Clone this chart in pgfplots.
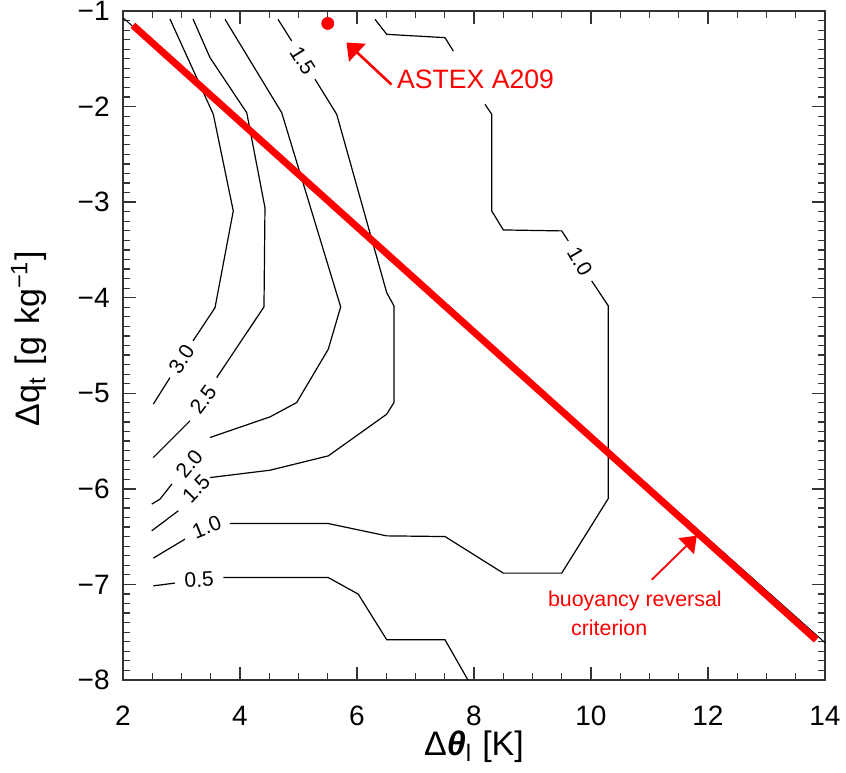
\documentclass[border=0pt]{standalone}
\usepackage{pgfplots}
\pgfplotsset{compat=1.18}
\usepackage{fontspec}
\setmainfont{Liberation Sans}
\usetikzlibrary{arrows.meta}
\definecolor{pred}{RGB}{255,0,0}
\begin{document}
\begin{tikzpicture}
\begin{axis}[
  name=ax,
  width=351pt, height=334.5pt, scale only axis,
  xmin=2, xmax=14, ymin=-8, ymax=-1,
  xtick={2,4,6,8,10,12,14},
  xticklabels={2,4,6,8,10,12,14},
  ytick={-8,-7,-6,-5,-4,-3,-2,-1},
  yticklabels={−8,−7,−6,−5,−4,−3,−2,−1},
  minor x tick num=3, minor y tick num=9,
  tick pos=both, tick align=inside,
  major tick length=6.5pt, minor tick length=3.5pt,
  axis line style={line width=0.6pt, draw=black!80},
  major tick style={line width=0.7pt, draw=black!80},
  minor tick style={line width=0.6pt, draw=black!80},
  tick label style={font=\fontsize{14}{16}\selectfont, inner sep=0pt},
  xticklabel style={yshift=-13pt},
  yticklabel style={xshift=-6.5pt},
  xlabel={Δ\textbf{\textit{θ}}\textsubscript{l}\hspace{0.3em}[K]},
  ylabel={Δq\textsubscript{t}\hspace{0.35em}[g\hspace{0.35em}kg\textsuperscript{−1}]},
  every axis x label/.style={at={(axis description cs:0.5,-0.1)}, anchor=center, inner sep=0pt, font=\fontsize{17}{20}\selectfont},
  every axis y label/.style={at={(axis description cs:-0.134,0.51)}, rotate=90, anchor=center, inner sep=0pt, font=\fontsize{17}{20}\selectfont},
]
% contour 3.0
\addplot[black, line width=0.6pt] coordinates {(2.803,-1.084) (3.544,-2.081) (3.885,-3.092) (3.573,-4.104) (3.197,-4.452)};
\addplot[black, line width=0.6pt] coordinates {(2.803,-4.836) (2.518,-5.114)};
% contour 2.5
\addplot[black, line width=0.6pt] coordinates {(3.197,-1.084) (3.487,-1.488) (4.115,-2.064) (4.427,-3.058) (4.410,-4.096) (3.602,-4.836)};
\addplot[black, line width=0.6pt] coordinates {(3.145,-5.289) (2.518,-5.673)};
% contour 2.0
\addplot[black, line width=0.6pt] coordinates {(3.744,-1.087) (4.713,-2.064) (5.721,-4.096) (5.509,-4.539) (4.969,-5.097) (4.513,-5.247) (3.487,-5.463)};
\addplot[black, line width=0.6pt] coordinates {(2.838,-5.948) (2.632,-6.108) (2.491,-6.160)};
% contour 1.5
\addplot[black, line width=0.6pt] coordinates {(4.650,-1.087) (4.884,-1.314)};
\addplot[black, line width=0.6pt] coordinates {(5.282,-1.714) (5.653,-2.081) (6.508,-3.947) (6.632,-4.086) (6.632,-5.097) (6.508,-5.219) (5.509,-5.655) (4.513,-5.805) (3.487,-5.882)};
\addplot[black, line width=0.6pt] coordinates {(2.945,-6.230) (2.491,-6.439)};
% contour 1.0
\addplot[black, line width=0.6pt] coordinates {(6.308,-1.087) (6.508,-1.244) (7.504,-1.279) (7.646,-1.418)};
\addplot[black, line width=0.6pt] coordinates {(8.188,-1.976) (8.303,-2.081) (8.303,-3.092) (8.501,-3.291) (9.499,-3.301) (9.612,-3.406)};
\addplot[black, line width=0.6pt] coordinates {(10.012,-3.824) (10.296,-4.086) (10.296,-6.101) (9.499,-6.882) (8.501,-6.882) (7.504,-6.499) (6.508,-6.492) (5.509,-6.363) (3.829,-6.363)};
\addplot[black, line width=0.6pt] coordinates {(3.060,-6.526) (2.518,-6.725)};
% contour 0.5
\addplot[black, line width=0.6pt] coordinates {(2.518,-7.015) (2.889,-6.986)};
\addplot[black, line width=0.6pt] coordinates {(3.715,-6.928) (5.509,-6.928) (6.022,-7.102) (6.508,-7.579) (7.504,-7.579) (7.990,-8.1)};
% contour labels
\node[rotate=57, font=\fontsize{10.5}{12}\selectfont] at (axis cs:3.00,-4.64) {3.0};
\node[rotate=53, font=\fontsize{10.5}{12}\selectfont] at (axis cs:3.37,-5.07) {2.5};
\node[rotate=50, font=\fontsize{10.5}{12}\selectfont] at (axis cs:3.13,-5.74) {2.0};
\node[rotate=46, font=\fontsize{10.5}{12}\selectfont] at (axis cs:3.25,-6.00) {1.5};
\node[rotate=22, font=\fontsize{10.5}{12}\selectfont] at (axis cs:3.43,-6.40) {1.0};
\node[rotate=3, font=\fontsize{10.5}{12}\selectfont] at (axis cs:3.30,-6.95) {0.5};
\node[rotate=-58, font=\fontsize{10.5}{12}\selectfont] at (axis cs:5.07,-1.52) {1.5};
\node[rotate=-60, font=\fontsize{10.5}{12}\selectfont] at (axis cs:9.81,-3.62) {1.0};
% buoyancy reversal criterion line
\addplot[black, line width=0.5pt] coordinates {(2,-1.07) (14,-7.61)};
\addplot[pred, line width=3.5pt] coordinates {(2.17,-1.15) (13.85,-7.58)};
% ASTEX A209
\addplot[only marks, mark=*, mark size=3pt, pred] coordinates {(5.50,-1.13)};
\addplot[pred, line width=1.3pt, -{Triangle[length=7.5pt,width=12pt]}] coordinates {(6.59,-1.77) (5.82,-1.33)};
\node[anchor=west, text=pred, inner sep=0pt, font=\fontsize{13.3}{15}\selectfont] at (axis cs:6.68,-1.71) {ASTEX A209};
% buoyancy arrow and text
\addplot[pred, line width=0.9pt, -{Triangle[length=7.5pt,width=11pt]}] coordinates {(11.04,-6.95) (11.81,-6.49)};
\node[text=pred, inner sep=0pt, font=\fontsize{10.7}{12}\selectfont] at (axis cs:10.75,-7.17) {buoyancy reversal};
\node[text=pred, inner sep=0pt, font=\fontsize{10.7}{12}\selectfont] at (axis cs:10.31,-7.45) {criterion};
\end{axis}
\path ([xshift=-61.5pt,yshift=-46.5pt]ax.south west) rectangle ([xshift=10.5pt,yshift=5.5pt]ax.north east);
\end{tikzpicture}
\end{document}
